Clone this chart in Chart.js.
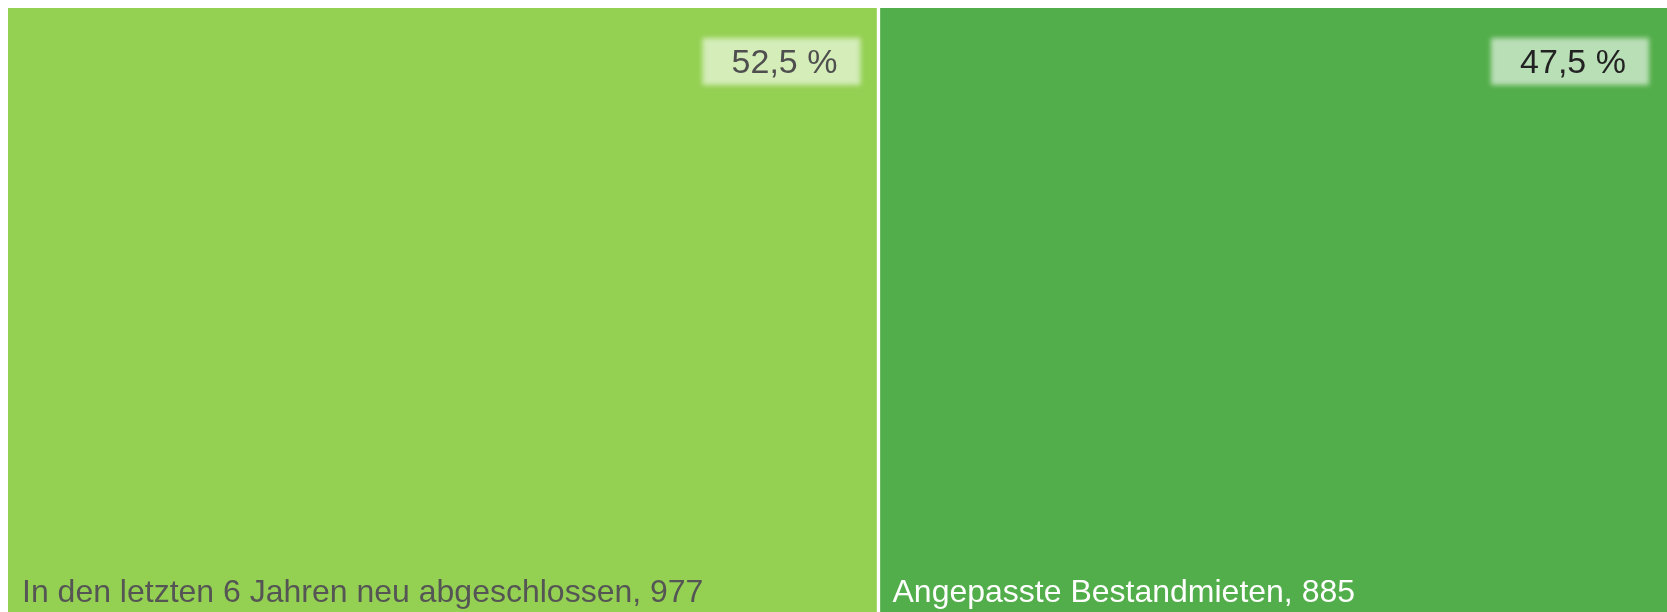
<!DOCTYPE html>
<html>
<head>
<meta charset="utf-8">
<script src="https://cdn.jsdelivr.net/npm/chart.js@4.4.1/dist/chart.umd.min.js"></script>
<style>
html,body{margin:0;padding:0;background:#ffffff;}
#wrap{width:1667px;height:612px;position:relative;}
</style>
</head>
<body>
<div id="wrap"><canvas id="c"></canvas></div>
<script>
const categories = ['In den letzten 6 Jahren neu abgeschlossen', 'Angepasste Bestandmieten'];
const values = [977, 885];
const colors = ['#94d152', '#52ae4a'];
const labelColors = ['#555555', '#ffffff'];
const pctColors = ['#4f4f4f', '#222222'];

const total = values.reduce((a, b) => a + b, 0);
const fmtPct = v => (v / total * 100).toFixed(1).replace('.', ',') + ' %';

const labelPlugin = {
  id: 'treeLabels',
  afterDatasetsDraw(chart) {
    const ctx = chart.ctx;
    const area = chart.chartArea;
    chart.data.datasets.forEach((ds, i) => {
      const el = chart.getDatasetMeta(i).data[0];
      const left = Math.min(el.x, el.base);
      const right = Math.max(el.x, el.base);
      const top = area.top;
      // percent box
      const boxW = 158, boxH = 47;
      const bx = right - 18 - boxW, by = top + 30;
      ctx.save();
      ctx.filter = 'blur(2.5px)';
      ctx.fillStyle = 'rgba(255,255,255,0.6)';
      ctx.fillRect(bx, by, boxW, boxH);
      ctx.restore();
      ctx.save();
      ctx.font = '34px "Liberation Sans", Arial, sans-serif';
      ctx.fillStyle = pctColors[i];
      ctx.textAlign = 'center';
      ctx.textBaseline = 'alphabetic';
      ctx.fillText(fmtPct(values[i]), bx + boxW / 2 + 3, by + 35);
      // category label
      ctx.font = '32px "Liberation Sans", Arial, sans-serif';
      ctx.fillStyle = labelColors[i];
      ctx.textAlign = 'left';
      ctx.fillText(categories[i] + ', ' + values[i], left + 14, 602);
      ctx.restore();
    });
  }
};

new Chart(document.getElementById('c'), {
  type: 'bar',
  data: {
    labels: ['Mieten'],
    datasets: values.map((v, i) => ({
      label: categories[i],
      data: [v],
      backgroundColor: colors[i],
      borderColor: '#ffffff',
      borderWidth: i === 0 ? {left: 0, right: 2, top: 0, bottom: 0} : {left: 2, right: 0, top: 0, bottom: 0},
      borderSkipped: false,
      barPercentage: 1,
      categoryPercentage: 1
    }))
  },
  options: {
    indexAxis: 'y',
    responsive: true,
    maintainAspectRatio: false,
    animation: false,
    layout: {padding: {left: 8, top: 8, right: 0, bottom: 0}},
    scales: {
      x: {stacked: true, min: 0, max: total, display: false},
      y: {stacked: true, display: false}
    },
    plugins: {legend: {display: false}, tooltip: {enabled: false}}
  },
  plugins: [labelPlugin]
});
</script>
</body>
</html>
